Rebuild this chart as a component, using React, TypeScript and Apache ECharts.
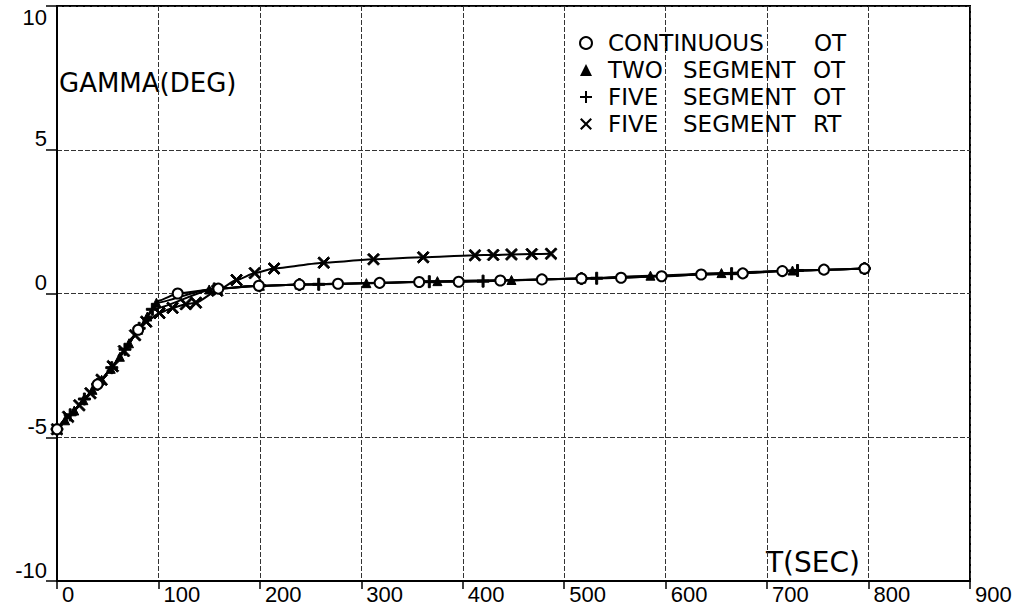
import React, { useEffect, useRef } from 'react';
import * as echarts from 'echarts';

// ---- data ----
const CONT_T = [0, 10, 20, 30, 40, 50, 60, 70, 80, 90, 100, 119, 159, 199, 239, 277, 318, 357, 396, 437, 478, 517, 556, 596, 635, 676, 715, 756, 796];
const CONT_Y = [-4.72, -4.33, -3.96, -3.55, -3.16, -2.76, -2.3, -1.78, -1.26, -0.75, -0.25, 0.0, 0.17, 0.27, 0.31, 0.34, 0.37, 0.4, 0.41, 0.45, 0.49, 0.52, 0.55, 0.6, 0.66, 0.7, 0.78, 0.83, 0.87];
// curve-only points of the continuous run (no marker drawn there)
const CONT_NO_MARK = [10, 20, 30, 50, 60, 70, 90, 100];

const TWO_T = [0, 8, 17, 26, 35, 44, 53, 62, 71, 80, 89, 98, 150, 200, 239, 305, 375, 448, 517, 585, 655, 725, 796];
const TWO_Y = [-4.72, -4.41, -4.07, -3.71, -3.35, -3.0, -2.62, -2.2, -1.73, -1.26, -0.8, -0.32, 0.14, 0.27, 0.31, 0.36, 0.43, 0.47, 0.52, 0.62, 0.71, 0.8, 0.87];

const FIVE_T = [0, 13, 27, 40, 54, 67, 81, 94, 155, 200, 239, 258, 367, 420, 517, 532, 665, 730, 796];
const FIVE_Y = [-4.72, -4.22, -3.67, -3.16, -2.58, -1.94, -1.21, -0.55, 0.16, 0.27, 0.31, 0.32, 0.41, 0.43, 0.52, 0.53, 0.69, 0.8, 0.87];

const RT_T = [0, 11, 22, 33, 44, 55, 66, 77, 88, 101, 114, 127, 137, 158, 177, 195, 214, 263, 312, 361, 412, 430, 448, 468, 487];
const RT_Y = [-4.72, -4.29, -3.89, -3.47, -3.0, -2.53, -2.0, -1.45, -0.98, -0.68, -0.5, -0.37, -0.32, 0.1, 0.47, 0.71, 0.87, 1.07, 1.19, 1.26, 1.33, 1.34, 1.36, 1.37, 1.38];

const NAMES = ['CONTINUOUS OT', 'TWO SEGMENT OT', 'FIVE SEGMENT OT', 'FIVE SEGMENT RT'];
const Y_NAME = 'GAMMA(DEG)';
const X_NAME = 'T(SEC)';

const PLUS = 'path://M-1,-6H1V-1H6V1H1V6H-1V1H-6V-1H-1Z';
const CROSS = 'path://M-1.41,0L-5.66,-4.24L-4.24,-5.66L0,-1.41L4.24,-5.66L5.66,-4.24L1.41,0L5.66,4.24L4.24,5.66L0,1.41L-4.24,5.66L-5.66,4.24Z';

const pair = (t: number[], y: number[]) => t.map((v, i) => [v, y[i]]);

export default function App() {
  const ref = useRef<HTMLDivElement>(null);
  useEffect(() => {
    const chart = echarts.init(ref.current as HTMLDivElement, null, { renderer: 'svg' });
    const tickFont = { fontFamily: 'Liberation Sans', fontSize: 22, color: '#000' };
    const wordFont = 'DejaVu Sans';
    const base = {
      type: 'line',
      smooth: 0.2,
      smoothMonotone: 'x',
      lineStyle: { color: '#000', width: 2 },
      emphasis: { disabled: true },
    };
    const richStyle = (w?: number) => ({ fontFamily: wordFont, fontSize: 23, color: '#000', lineHeight: 24, ...(w ? { width: w } : {}) });
    const contData = CONT_T.map((t, i) =>
      CONT_NO_MARK.includes(t) ? { value: [t, CONT_Y[i]], symbol: 'none' } : { value: [t, CONT_Y[i]] }
    );
    chart.setOption({
      animation: false,
      grid: { left: 57, right: 63, top: 6, bottom: 33, show: true, borderColor: '#000', borderWidth: 2, backgroundColor: 'transparent' },
      xAxis: {
        type: 'value', min: 0, max: 900, interval: 100,
        axisLine: { show: true, onZero: false, lineStyle: { color: '#000', width: 2 } },
        axisTick: { show: true, length: 8, lineStyle: { color: '#000', width: 1.5 } },
        axisLabel: { ...tickFont, align: 'left', margin: 2, padding: [0, 0, 0, 5], showMaxLabel: true, showMinLabel: true },
        splitLine: { show: true, lineStyle: { color: '#333', width: 1, type: [5, 2] } },
      },
      yAxis: [
        {
          type: 'value', min: -10, max: 10, interval: 5,
          axisLine: { show: true, onZero: false, lineStyle: { color: '#000', width: 2 } },
          axisTick: { show: true, length: 11, lineStyle: { color: '#000', width: 1.5 } },
          axisLabel: { ...tickFont, margin: 10, verticalAlign: 'bottom', formatter: (v: number) => (v === 10 ? '' : String(v)) },
          splitLine: { show: true, lineStyle: { color: '#333', width: 1, type: [5, 2] } },
        },
        {
          type: 'value', min: -10, max: 10, interval: 5, position: 'left',
          axisLine: { show: false }, axisTick: { show: false }, splitLine: { show: false },
          axisLabel: { ...tickFont, margin: 10, verticalAlign: 'top', formatter: (v: number) => (v === 10 ? '10' : '') },
        },
      ],
      legend: {
        orient: 'vertical', left: 574, top: 26, itemGap: 3, itemWidth: 12, itemHeight: 12,
        selectedMode: false,
        data: [
          { name: NAMES[0], icon: 'emptyCircle' },
          { name: NAMES[1], icon: 'triangle' },
          { name: NAMES[2], icon: PLUS },
          { name: NAMES[3], icon: CROSS },
        ],
        formatter: (name: string) => {
          if (name === NAMES[0]) return '{w|CONTINUOUS}{c|OT}';
          const p = name.split(' ');
          return `{a|${p[0]}}{b|${p[1]}}{c|${p[2]}}`;
        },
        textStyle: {
          ...richStyle(), padding: [0, 0, 0, 11],
          rich: { w: richStyle(206), a: richStyle(75), b: richStyle(130), c: richStyle() },
        },
      },
      graphic: [
        { type: 'text', left: 59, top: 70, style: { text: Y_NAME, font: `26px "${wordFont}"`, fill: '#000' } },
        { type: 'text', left: 766, top: 548, style: { text: X_NAME, font: `28px "${wordFont}"`, fill: '#000' } },
      ],
      series: [
        {
          ...base, name: NAMES[0], data: contData, z: 5,
          symbol: 'emptyCircle', symbolSize: 10,
          itemStyle: { color: '#000', borderColor: '#000', borderWidth: 1.6 },
        },
        {
          ...base, name: NAMES[1], data: pair(TWO_T, TWO_Y), z: 4,
          symbol: 'triangle', symbolSize: 9,
          itemStyle: { color: '#000', borderColor: '#000' },
        },
        {
          ...base, name: NAMES[2], data: pair(FIVE_T, FIVE_Y), z: 3,
          symbol: PLUS, symbolSize: 12,
          itemStyle: { color: '#000', borderColor: '#000' },
        },
        {
          ...base, name: NAMES[3], data: pair(RT_T, RT_Y), z: 2,
          symbol: CROSS, symbolSize: 12,
          itemStyle: { color: '#000', borderColor: '#000' },
        },
      ],
    });
    return () => chart.dispose();
  }, []);
  return <div ref={ref} style={{ position: 'fixed', left: 0, top: 0, width: 1033, height: 614, background: '#fff' }} />;
}
